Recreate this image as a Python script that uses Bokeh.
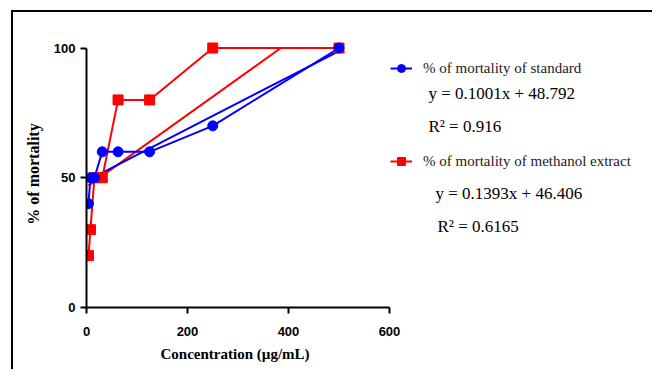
from bokeh.plotting import figure
from bokeh.models import Range1d, FixedTicker, Legend, LegendItem, Label, Title
from bokeh.embed import file_html
from bokeh.resources import INLINE

# ---- data ----
conc = [3.9, 7.8, 15.6, 31.25, 62.5, 125, 250, 500]
mort_standard = [40, 50, 50, 60, 60, 60, 70, 100]
mort_extract = [20, 30, 50, 50, 80, 80, 100, 100]
fit_standard = (0.1001, 48.792, 0.916)   # slope, intercept, R²
fit_extract = (0.1393, 46.406, 0.6165)
x_ticks = [0, 200, 400, 600]
y_ticks = [0, 50, 100]
series_names = ["% of mortality of standard", "% of mortality of methanol extract"]
x_title = "Concentration (µg/mL)"
y_title = "% of mortality"

BLUE = "#0000FF"
RED = "#FF0000"

p = figure(width=652, height=369, output_backend="svg", toolbar_location=None,
           x_range=Range1d(0, 1120.8), y_range=Range1d(0, 102.9),
           min_border_left=86, min_border_right=0, min_border_top=40, min_border_bottom=62)
p.styles = {
    "background": ("linear-gradient(#000, #000) 11px 10px / 2px calc(100% - 10px) no-repeat, "
                   "linear-gradient(#000, #000) 11px 10px / calc(100% - 11px) 2px no-repeat, #fff"),
}
p.outline_line_color = None
p.xgrid.visible = False
p.ygrid.visible = False
p.background_fill_alpha = 0
p.border_fill_alpha = 0


def trend(fit):
    m, b, _ = fit
    x0 = min(conc)
    x1 = min(max(conc), (max(y_ticks) - b) / m)
    return [x0, x1], [m * x0 + b, m * x1 + b]


tx, ty = trend(fit_extract)
p.line(tx, ty, color=RED, line_width=2)
tx, ty = trend(fit_standard)
p.line(tx, ty, color=BLUE, line_width=2)

rl = p.line(conc, mort_extract, color=RED, line_width=2)
bl = p.line(conc, mort_standard, color=BLUE, line_width=2)
rs = p.scatter(conc, mort_extract, marker="square", size=10, color=RED)
bs = p.scatter(conc, mort_standard, marker="circle", size=10, color=BLUE)

for ax in (p.xaxis, p.yaxis):
    ax.axis_line_width = 2
    ax.major_tick_line_width = 2
    ax.major_tick_out = 6
    ax.major_tick_in = 0
    ax.minor_tick_out = 0
    ax.minor_tick_in = 0
    ax.major_label_text_font = "Liberation Sans"
    ax.major_label_text_font_style = "bold"
    ax.major_label_text_font_size = "13px"
    ax.major_label_text_color = "black"

p.xaxis.ticker = FixedTicker(ticks=x_ticks)
p.xaxis.bounds = (x_ticks[0], x_ticks[-1])
p.xaxis.major_label_standoff = 13

p.yaxis.ticker = FixedTicker(ticks=y_ticks)
p.yaxis.bounds = (y_ticks[0], y_ticks[-1])
p.yaxis.major_label_standoff = 5
p.yaxis.axis_label = y_title
p.yaxis.axis_label_text_font = "Liberation Serif"
p.yaxis.axis_label_text_font_style = "bold"
p.yaxis.axis_label_text_font_size = "16px"
p.yaxis.axis_label_text_color = "black"
p.yaxis.axis_label_standoff = 9

# x-axis title centred under the drawn axis (0..600), not under the whole frame
xt = Title(text=x_title, align="left", offset=74, standoff=10,
           text_font="Liberation Serif", text_font_style="bold", text_font_size="15px",
           text_color="black")
p.add_layout(xt, "below")

legend = Legend(items=[LegendItem(label=series_names[0], renderers=[bl, bs]),
                       LegendItem(label=series_names[1], renderers=[rl, rs])],
                location=(304, 136), orientation="vertical", spacing=73, padding=0, margin=0,
                glyph_width=22, glyph_height=20, label_height=20, label_standoff=11,
                border_line_alpha=0, background_fill_alpha=0,
                label_text_font="Liberation Serif", label_text_font_size="15px",
                label_text_color="#222222")
p.add_layout(legend)

eq_style = dict(text_font="Liberation Serif", text_font_size="17px", text_color="black",
                text_baseline="middle", text_align="left")
m, b, r2 = fit_standard
p.add_layout(Label(x=677, y=82.5, text=f"y = {m}x + {b}", **eq_style))
p.add_layout(Label(x=677, y=69.7, text=f"R² = {r2}", **eq_style))
m, b, r2 = fit_extract
p.add_layout(Label(x=691, y=43.9, text=f"y = {m}x + {b}", **eq_style))
p.add_layout(Label(x=695, y=31.2, text=f"R² = {r2}", **eq_style))

open("out.html", "w").write(file_html(p, INLINE))
